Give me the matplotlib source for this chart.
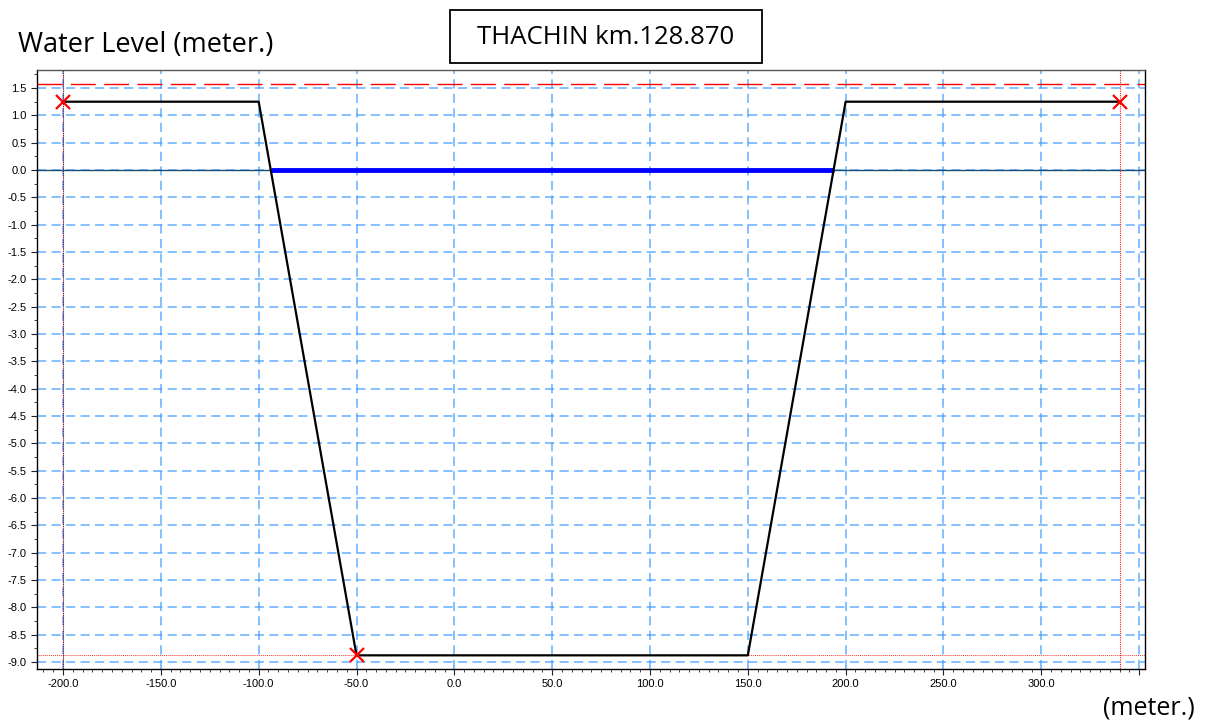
import numpy as np
import matplotlib
matplotlib.use("Agg")
import matplotlib.pyplot as plt
from matplotlib.ticker import MultipleLocator, FuncFormatter
from matplotlib.patches import Rectangle

# ---- data ----
title = "THACHIN km.128.870"
profile_x = [-200, -100, -50, 150, 200, 340]
profile_y = [1.25, 1.25, -8.88, -8.88, 1.25, 1.25]
marker_x = [-200, -50, 340]
marker_y = [1.25, -8.88, 1.25]
water_level = 0.0
top_level = 1.57
bed_level = -8.88
x_label_max = 300

W, H = 1207, 725
fig = plt.figure(figsize=(W/100, H/100), dpi=100)
ax = fig.add_axes([37/W, 1-669/H, (1145-37)/W, (669-70)/H])
ax.set_xlim(-213.3, 353)
ax.set_ylim(-9.13, 1.83)

ax.xaxis.set_major_locator(MultipleLocator(50))
ax.xaxis.set_minor_locator(MultipleLocator(5))
ax.yaxis.set_major_locator(MultipleLocator(0.5))
ax.yaxis.set_minor_locator(MultipleLocator(0.25))
ax.xaxis.set_major_formatter(FuncFormatter(lambda v, p: f"{v:.1f}" if v <= x_label_max + 1e-6 else ""))
ax.yaxis.set_major_formatter(FuncFormatter(lambda v, p: f"{v:.1f}"))
ax.grid(True, which='major', color='#3d9bff', alpha=0.8, lw=1.1, ls=(0, (6, 3.5)))
ax.set_axisbelow(True)

ax.axhline(0.0, color='#1c4f78', lw=1.0, zorder=2)
ax.axhline(top_level, color='red', lw=1.0, ls=(0, (18, 6)), zorder=2)
ax.axhline(bed_level, color='red', lw=0.7, ls=(0, (1, 1)), alpha=0.8, zorder=2)
ax.axvline(marker_x[-1], color='red', lw=0.8, ls=(0, (1, 1)), alpha=0.9, zorder=2)
ax.axvline(marker_x[0], color='#223366', lw=0.8, ls=(0, (1, 1)), zorder=2)
ax.axvline(marker_x[0], color='red', lw=0.6, ls=(1, (1, 1)), alpha=0.8, zorder=2)

left_x = np.interp(water_level, [profile_y[2], profile_y[1]], [profile_x[2], profile_x[1]])
right_x = np.interp(water_level, [profile_y[3], profile_y[4]], [profile_x[3], profile_x[4]])
ax.plot([left_x, right_x], [water_level, water_level], color='#0000ff', lw=3.5,
        solid_capstyle='butt', zorder=3)

ax.plot(profile_x, profile_y, color='black', lw=1.6, zorder=4)
ax.plot(marker_x, marker_y, ls='none', marker='x', color='red', ms=10, mew=1.6, zorder=5)

for s in ax.spines.values():
    s.set_color('black')
    s.set_linewidth(1.0)
ax.spines['top'].set_color('#555555')

ax.tick_params(axis='both', which='major', labelsize=8, length=4, direction='out',
               colors='#222222', labelcolor='black')
ax.tick_params(axis='both', which='minor', length=2.5, direction='out', colors='#222222')
for lab in ax.get_xticklabels() + ax.get_yticklabels():
    lab.set_fontfamily('Liberation Sans')

fig.text(18/W, 1-45/H, "Water Level (meter.)", fontsize=19.5, family='Open Sans',
         ha='left', va='center')
fig.text(1195/W, 1-708/H, "(meter.)", fontsize=18, family='Open Sans',
         ha='right', va='center')
fig.patches.append(Rectangle((450/W, 1-63/H), 312/W, 53/H, transform=fig.transFigure,
                             fc='white', ec='black', lw=1.3, figure=fig))
fig.text(606/W, 1-38/H, title, fontsize=18.5, family='Open Sans', ha='center', va='center')

fig.savefig("out.png", dpi=100)
